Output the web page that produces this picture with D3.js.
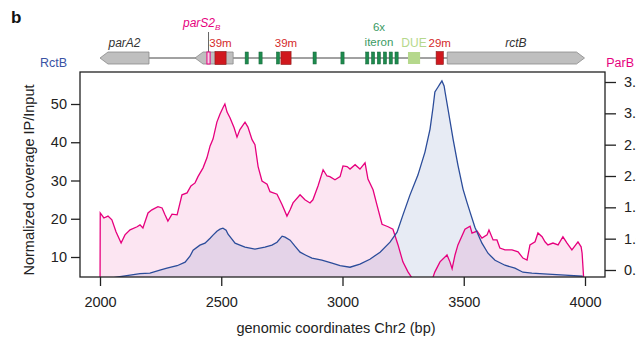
<!DOCTYPE html>
<html>
<head>
<meta charset="utf-8">
<script src="https://cdn.jsdelivr.net/npm/d3@7"></script>
<style>
  body { margin: 0; background: #fff; }
  svg { font-family: "Liberation Sans", Arial, sans-serif; }
</style>
</head>
<body>
<div id="chart"></div>
<script>
// ParB ChIP (pink, right axis) - genomic position (bp) and ratio
const parbPos = [2000, 2001, 2016, 2033, 2049, 2066, 2087, 2103, 2124, 2153, 2165, 2177, 2198, 2214, 2239, 2256,
  2268, 2280, 2297, 2318, 2338, 2359, 2375, 2392, 2404, 2425, 2441, 2454, 2466, 2482, 2495, 2507, 2515, 2524,
  2536, 2553, 2565, 2577, 2598, 2610, 2627, 2639, 2652, 2668, 2689, 2701, 2730, 2751, 2771, 2784, 2796, 2825,
  2845, 2866, 2878, 2899, 2920, 2936, 2948, 2969, 2990, 3002, 3019, 3031, 3052, 3072, 3093, 3105, 3126, 3142,
  3163, 3188, 3208, 3229, 3249, 3270, 3287, 3303, 3340, 3369, 3381, 3402, 3431, 3443, 3452, 3464, 3476, 3505,
  3526, 3534, 3555, 3575, 3596, 3604, 3621, 3637, 3649, 3670, 3699, 3724, 3744, 3761, 3773, 3794, 3806, 3823,
  3835, 3847, 3868, 3889, 3909, 3926, 3946, 3971, 3984, 3988, 3994, 3996];
const parbVal = [0, 1.41, 1.33, 1.36, 1.30, 1.11, 0.93, 1.06, 1.14, 1.19, 1.22, 1.17, 1.41, 1.46, 1.51, 1.49,
  1.38, 1.28, 1.39, 1.38, 1.70, 1.73, 1.84, 1.89, 1.99, 2.13, 2.29, 2.48, 2.59, 2.86, 2.99, 3.09, 3.15, 3.02,
  2.93, 2.77, 2.62, 2.74, 2.86, 2.78, 2.58, 2.50, 2.15, 1.92, 1.87, 1.75, 1.71, 1.54, 1.36, 1.46, 1.57, 1.70,
  1.62, 1.57, 1.62, 1.84, 2.10, 2.00, 1.99, 1.94, 1.99, 2.16, 2.15, 2.11, 2.18, 2.11, 2.21, 1.95, 1.78, 1.54,
  1.23, 1.19, 1.15, 0.90, 0.63, 0.47, 0.37, 0.26, 0.18, 0.34, 0.47, 0.63, 0.74, 0.63, 0.52, 0.74, 0.90, 1.15,
  1.20, 1.09, 1.12, 1.01, 1.06, 1.14, 0.98, 0.98, 0.85, 0.82, 0.82, 0.79, 0.69, 0.66, 0.90, 0.95, 1.09, 1.03,
  0.95, 0.90, 0.93, 0.90, 1.03, 0.93, 0.82, 0.95, 0.87, 0.77, 0.40, 0];

// RctB ChIP (blue, left axis)
const rctbPos = [2000, 2041, 2082, 2124, 2165, 2206, 2247, 2276, 2318, 2351, 2371, 2384, 2412, 2433, 2454, 2466,
  2482, 2495, 2507, 2520, 2528, 2544, 2557, 2577, 2598, 2639, 2680, 2709, 2730, 2751, 2763, 2784, 2804, 2825,
  2849, 2874, 2915, 2957, 2990, 3031, 3072, 3113, 3155, 3196, 3225, 3249, 3278, 3311, 3340, 3361, 3373, 3381,
  3394, 3402, 3410, 3419, 3423, 3435, 3456, 3476, 3497, 3513, 3526, 3546, 3575, 3600, 3629, 3670, 3711, 3744,
  3781, 3847, 3918, 3988, 3996];
const rctbVal = [4.19, 4.45, 4.84, 5.24, 5.63, 5.76, 6.54, 7.07, 7.72, 8.64, 10.21, 11.78, 13.09, 13.61, 14.92, 15.71,
  16.75, 17.28, 17.54, 17.02, 15.97, 14.66, 13.61, 13.09, 12.57, 12.04, 12.57, 13.09, 13.87, 15.45, 15.18, 14.40,
  12.83, 11.26, 10.47, 9.69, 9.16, 8.38, 7.72, 7.33, 8.12, 9.42, 11.26, 13.87, 16.49, 20.94, 26.18, 31.41, 37.43,
  43.46, 48.95, 53.14, 54.45, 55.24, 56.02, 54.71, 53.14, 48.69, 40.84, 34.03, 27.75, 24.35, 21.73, 17.80, 13.61,
  10.99, 9.16, 7.85, 7.07, 6.02, 5.76, 5.50, 5.24, 4.97, 0];

const xTicks = [2000, 2500, 3000, 3500, 4000];
const leftTicks = [10, 20, 30, 40, 50];
const rightTicks = [0.5, 1.0, 1.5, 2.0, 2.5, 3.0, 3.5];

// gene map (bp)
const genes = [
  { start: 2000, end: 2202, dir: -1, label: "parA2" },
  { start: 2392, end: 2549, dir: -1, label: "" },
  { start: 3432, end: 3998, dir: 1, label: "rctB" }
];
const boxes39 = [[2474, 2520], [2746, 2788]];
const box29 = [3386, 3416];
const iterons = [2605, 2662, 2734, 2885, 3000, 3102, 3126, 3150, 3175, 3199, 3223];
const due = [3270, 3320];
const parS = [2441, 2454];

const width = 636, height = 342;
const plot = { left: 80, right: 605, top: 72, bottom: 277 };

const svg = d3.select("#chart").append("svg")
  .attr("width", width)
  .attr("height", height);

const x = d3.scaleLinear().domain([2000, 4000]).range([100, 585]);
const yL = d3.scaleLinear().domain([10, 50]).range([257, 104]);
const yR = d3.scaleLinear().domain([0.5, 3.5]).range([270, 82]);

const pink = "#e6007e", blue = "#2b4c9a";
const fs = "14.5px";

svg.append("clipPath").attr("id", "clip")
  .append("rect")
  .attr("x", plot.left).attr("y", plot.top)
  .attr("width", plot.right - plot.left).attr("height", plot.bottom - plot.top);

const parb = parbPos.map((p, i) => ({ p: p, v: parbVal[i] }));
const rctb = rctbPos.map((p, i) => ({ p: p, v: rctbVal[i] }));

const g = svg.append("g").attr("clip-path", "url(#clip)");

const areaR = d3.area().x(d => x(d.p)).y0(plot.bottom + 2).y1(d => yR(d.v));
const areaL = d3.area().x(d => x(d.p)).y0(plot.bottom + 2).y1(d => yL(d.v));
const lineR = d3.line().x(d => x(d.p)).y(d => yR(d.v));
const lineL = d3.line().x(d => x(d.p)).y(d => yL(d.v));

g.append("path").datum(parb).attr("d", areaR).attr("fill", pink).attr("fill-opacity", 0.1);
g.append("path").datum(rctb).attr("d", areaL).attr("fill", "#28469a").attr("fill-opacity", 0.11);
g.append("path").datum(parb).attr("d", lineR).attr("fill", "none").attr("stroke", pink).attr("stroke-width", 1.3);
g.append("path").datum(rctb).attr("d", lineL).attr("fill", "none").attr("stroke", blue).attr("stroke-width", 1.3);

// frame
svg.append("rect")
  .attr("x", plot.left).attr("y", plot.top)
  .attr("width", plot.right - plot.left).attr("height", plot.bottom - plot.top)
  .attr("fill", "none").attr("stroke", "#222").attr("stroke-width", 1.3);

function styleAxis(sel) {
  sel.select(".domain").remove();
  sel.selectAll(".tick line").attr("stroke", "#222").attr("stroke-width", 1.3);
  sel.selectAll(".tick text").attr("fill", "#222").style("font-size", fs);
}

svg.append("g")
  .attr("transform", "translate(" + plot.left + ",0)")
  .call(d3.axisLeft(yL).tickValues(leftTicks).tickSize(9).tickPadding(4))
  .call(styleAxis);

svg.append("g")
  .attr("transform", "translate(0," + plot.bottom + ")")
  .call(d3.axisBottom(x).tickValues(xTicks).tickSize(9).tickPadding(11).tickFormat(d3.format("d")))
  .call(styleAxis);

svg.append("g")
  .attr("transform", "translate(" + plot.right + ",0)")
  .call(d3.axisRight(yR).tickValues(rightTicks).tickSize(11).tickPadding(8).tickFormat(d3.format(".1f")))
  .call(styleAxis);

// titles
svg.append("text")
  .attr("x", 336).attr("y", 333)
  .attr("text-anchor", "middle")
  .attr("fill", "#222").style("font-size", fs)
  .text("genomic coordinates Chr2 (bp)");

svg.append("text")
  .attr("transform", "translate(34,180) rotate(-90)")
  .attr("text-anchor", "middle")
  .attr("fill", "#222").style("font-size", fs)
  .text("Normalized coverage IP/Input");

svg.append("text").attr("x", 40).attr("y", 67)
  .attr("fill", "#3953a4").style("font-size", "12.5px").text("RctB");
svg.append("text").attr("x", 634).attr("y", 67)
  .attr("text-anchor", "end")
  .attr("fill", pink).style("font-size", "12.5px").text("ParB");

svg.append("text").attr("x", 11).attr("y", 23)
  .attr("fill", "#111").style("font-size", "17px").style("font-weight", "bold").text("b");

// gene map
const map = svg.append("g");
const cy = 58, hh = 6, head = 8;

map.append("line")
  .attr("x1", x(2202)).attr("x2", x(3432))
  .attr("y1", cy).attr("y2", cy)
  .attr("stroke", "#444").attr("stroke-width", 1);

genes.forEach(gn => {
  const x0 = x(gn.start), x1 = x(gn.end);
  let pts;
  if (gn.dir < 0) {
    pts = [[x0, cy], [x0 + head, cy - hh], [x1, cy - hh], [x1, cy + hh], [x0 + head, cy + hh]];
  } else {
    pts = [[x0, cy - hh], [x1 - head, cy - hh], [x1, cy], [x1 - head, cy + hh], [x0, cy + hh]];
  }
  map.append("polygon")
    .attr("points", pts.map(p => p.join(",")).join(" "))
    .attr("fill", "#bfbfbf").attr("stroke", "#8a8a8a").attr("stroke-width", 0.8);
  if (gn.label) {
    map.append("text")
      .attr("x", (x0 + x1) / 2).attr("y", 47)
      .attr("text-anchor", "middle")
      .attr("fill", "#333").style("font-size", "12px").style("font-style", "italic")
      .text(gn.label);
  }
});

// parS site
map.append("line")
  .attr("x1", x((parS[0] + parS[1]) / 2)).attr("x2", x((parS[0] + parS[1]) / 2))
  .attr("y1", 32).attr("y2", cy - hh)
  .attr("stroke", "#666").attr("stroke-width", 1);
map.append("rect")
  .attr("x", x(parS[0])).attr("y", cy - hh)
  .attr("width", x(parS[1]) - x(parS[0])).attr("height", hh * 2)
  .attr("fill", "#f4d3e6").attr("stroke", pink).attr("stroke-width", 1);
const ps = map.append("text")
  .attr("x", 183).attr("y", 27)
  .attr("fill", pink).style("font-size", "12px").style("font-style", "italic");
ps.append("tspan").text("parS2");
ps.append("tspan").attr("dy", 3).style("font-size", "8px").text("B");

// iterons
iterons.forEach(c => {
  map.append("rect")
    .attr("x", x(c) - 1.6).attr("y", cy - hh)
    .attr("width", 3.2).attr("height", hh * 2)
    .attr("fill", "#1e8a4e").attr("stroke", "#16663a").attr("stroke-width", 0.5);
});

// 39m and 29m boxes
const redBoxes = boxes39.map(b => ({ b: b, t: "39m" })).concat([{ b: box29, t: "29m" }]);
redBoxes.forEach(r => {
  map.append("rect")
    .attr("x", x(r.b[0])).attr("y", cy - 6.5)
    .attr("width", x(r.b[1]) - x(r.b[0])).attr("height", 13)
    .attr("fill", "#d0181e").attr("stroke", "#8c1a1a").attr("stroke-width", 0.6);
  map.append("text")
    .attr("x", x((r.b[0] + r.b[1]) / 2))
    .attr("y", 46.5)
    .attr("text-anchor", "middle")
    .attr("fill", "#d42a2a").style("font-size", "11.5px")
    .text(r.t);
});

// DUE
map.append("rect")
  .attr("x", x(due[0])).attr("y", cy - hh)
  .attr("width", x(due[1]) - x(due[0])).attr("height", hh * 2)
  .attr("fill", "#b5d88c");
map.append("text").attr("x", x((due[0] + due[1]) / 2)).attr("y", 47)
  .attr("text-anchor", "middle").attr("fill", "#b5d88c").style("font-size", "12px").text("DUE");

map.append("text").attr("x", 379).attr("y", 31)
  .attr("text-anchor", "middle").attr("fill", "#3a9a64").style("font-size", "11.5px").text("6x");
map.append("text").attr("x", 379).attr("y", 46)
  .attr("text-anchor", "middle").attr("fill", "#3a9a64").style("font-size", "11.5px").text("iteron");
</script>
</body>
</html>
